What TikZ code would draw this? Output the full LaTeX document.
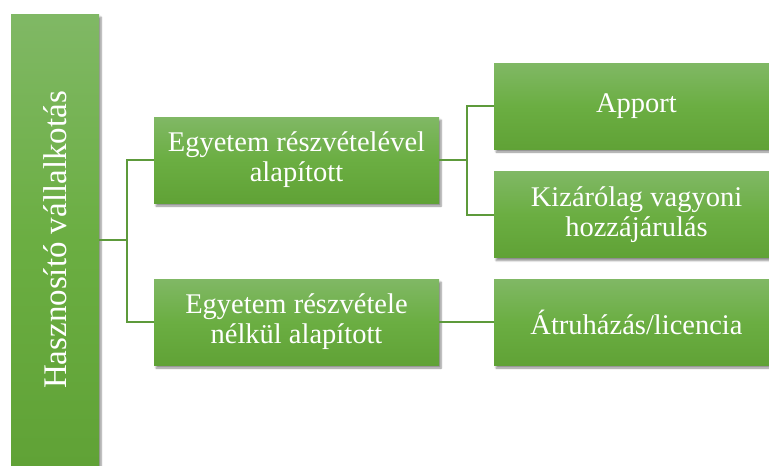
\documentclass[tikz,border=0pt]{standalone}
\usepackage{fontspec}
\setmainfont{Liberation Serif}
\usepackage{graphicx}
\usetikzlibrary{positioning,shadows.blur}
\definecolor{gtop}{HTML}{80B865}
\definecolor{gmid}{HTML}{6BAE42}
\definecolor{gbot}{HTML}{60A236}
\definecolor{gline}{HTML}{5D9A3B}

\begin{document}
\begin{tikzpicture}[x=1pt, y=-1pt, inner sep=0pt, outer sep=0pt,
  box/.style={minimum width=285, minimum height=86, top color=gtop, bottom color=gbot, middle color=gmid,
    text=white, align=center, font=\fontsize{28.5}{30}\selectfont,
    blur shadow={shadow xshift=2pt, shadow yshift=-3pt, shadow blur steps=6, shadow opacity=45}},
  tallbox/.style={box, minimum width=88, minimum height=452, font=\fontsize{33}{36}\selectfont},
  link/.style={draw=gline, line width=2pt}]
\useasboundingbox (0,0) rectangle (769,466);
\node[tallbox] (H) at (55,240) {\rotatebox{90}{Hasznosító vállalkotás}};
\node[box](E1)[right = 55pt of H, yshift=80pt] {Egyetem részvételével\\alapított};
\node[box](E2)[below = 76pt of E1] {Egyetem részvétele\\nélkül alapított};
\node[box](A1)[right = 55pt of E1, yshift=54pt] {Apport};
\node[box](A2)[below = 22.5pt of A1] {Kizárólag vagyoni\\hozzájárulás};
\node[box](A3)[right = 55pt of E2] {Átruházás/licencia};
\draw[link] (H.east) -- ++(27.5,0) |- (E1.west);
\draw[link] (H.east) -- ++(27.5,0) |- (E2.west);
\draw[link] (E1.east) -- ++(27.5,0) |- (A1.west);
\draw[link] (E1.east) -- ++(27.5,0) |- (A2.west);
\draw[link] (E2) -- (A3);
\end{tikzpicture}
\end{document}
